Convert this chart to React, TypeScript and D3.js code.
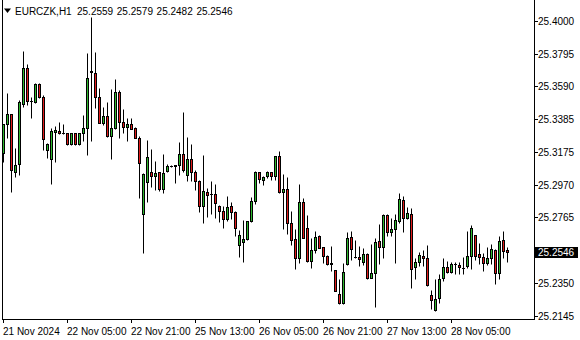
import React from "react";
import * as d3 from "d3";

const symbol = "EURCZK,H1";

const opens = [
  25.3168, 25.3350, 25.3413, 25.3052, 25.3099, 25.3476, 25.3702, 25.3499, 25.3492, 25.3602,
  25.3520, 25.3189, 25.3134, 25.3300, 25.3308, 25.3294, 25.3294, 25.3224, 25.3294, 25.3224,
  25.3294, 25.3325, 25.3681, 25.3671, 25.3524, 25.3356, 25.3402, 25.3277, 25.3325, 25.3551,
  25.3363, 25.3335, 25.3350, 25.3325, 25.3266, 25.2784, 25.2989, 25.3052, 25.3027, 25.3052,
  25.2941, 25.3056, 25.3088, 25.3092, 25.3092, 25.3163, 25.3029, 25.3132, 25.3048, 25.2992,
  25.2834, 25.2926, 25.2910, 25.2910, 25.2834, 25.2803, 25.2753, 25.2834, 25.2797, 25.2589,
  25.2608, 25.2629, 25.2742, 25.2866, 25.3048, 25.3002, 25.3027, 25.3048, 25.3027, 25.3151,
  25.2926, 25.2943, 25.2727, 25.2629, 25.2507, 25.2860, 25.2696, 25.2492, 25.2560, 25.2648,
  25.2576, 25.2522, 25.2476, 25.2434, 25.2283, 25.2226, 25.2471, 25.2643, 25.2518, 25.2518,
  25.2486, 25.2533, 25.2385, 25.2417, 25.2616, 25.2580, 25.2780, 25.2675, 25.2690, 25.2744,
  25.2874, 25.2759, 25.2786, 25.2454, 25.2482, 25.2524, 25.2507, 25.2276, 25.2182, 25.2256,
  25.2382, 25.2451, 25.2423, 25.2470, 25.2465, 25.2445, 25.2461, 25.2524, 25.2652, 25.2533,
  25.2514, 25.2476, 25.2511, 25.2560, 25.2417, 25.2622, 25.2559,
];

const highs = [
  25.3352, 25.3545, 25.3415, 25.3199, 25.3503, 25.3811, 25.3729, 25.3520, 25.3608, 25.3612,
  25.3534, 25.3234, 25.3325, 25.3339, 25.3363, 25.3350, 25.3296, 25.3296, 25.3296, 25.3296,
  25.3409, 25.3797, 25.4023, 25.3803, 25.3577, 25.3461, 25.3489, 25.3572, 25.3633, 25.3566,
  25.3446, 25.3388, 25.3392, 25.3331, 25.3277, 25.3042, 25.3251, 25.3193, 25.3119, 25.3053,
  25.3163, 25.3099, 25.3094, 25.3093, 25.3237, 25.3429, 25.3270, 25.3224, 25.3063, 25.3000,
  25.3157, 25.2948, 25.2994, 25.2977, 25.2843, 25.2836, 25.2899, 25.2860, 25.2805, 25.2685,
  25.2748, 25.2744, 25.2891, 25.3056, 25.3052, 25.3027, 25.3056, 25.3052, 25.3153, 25.3182,
  25.3036, 25.3021, 25.2805, 25.2692, 25.2975, 25.2885, 25.2780, 25.2633, 25.2679, 25.2654,
  25.2578, 25.2528, 25.2585, 25.2435, 25.2375, 25.2476, 25.2671, 25.2679, 25.2622, 25.2585,
  25.2574, 25.2539, 25.2597, 25.2633, 25.2723, 25.2786, 25.2786, 25.2759, 25.2786, 25.2920,
  25.2899, 25.2832, 25.2822, 25.2507, 25.2545, 25.2560, 25.2591, 25.2308, 25.2375, 25.2407,
  25.2507, 25.2490, 25.2486, 25.2482, 25.2486, 25.2514, 25.2679, 25.2717, 25.2654, 25.2602,
  25.2539, 25.2577, 25.2597, 25.2564, 25.2648, 25.2679, 25.2579,
];

const lows = [
  25.3115, 25.3266, 25.2926, 25.3021, 25.3031, 25.3461, 25.3472, 25.3388, 25.3486, 25.3514,
  25.3189, 25.3136, 25.2973, 25.3115, 25.3292, 25.3289, 25.3222, 25.3222, 25.3222, 25.3222,
  25.3245, 25.3157, 25.3247, 25.3451, 25.3356, 25.3346, 25.3268, 25.3130, 25.3319, 25.3262,
  25.3294, 25.3247, 25.3319, 25.3262, 25.2888, 25.2543, 25.2863, 25.2958, 25.2937, 25.2933,
  25.2920, 25.3052, 25.3080, 25.2983, 25.3031, 25.3052, 25.2995, 25.2995, 25.2937, 25.2797,
  25.2727, 25.2769, 25.2784, 25.2759, 25.2734, 25.2700, 25.2742, 25.2753, 25.2648, 25.2514,
  25.2482, 25.2622, 25.2736, 25.2849, 25.2983, 25.2968, 25.3011, 25.3000, 25.3000, 25.2920,
  25.2692, 25.2660, 25.2591, 25.2440, 25.2476, 25.2633, 25.2486, 25.2444, 25.2543, 25.2570,
  25.2476, 25.2465, 25.2427, 25.2302, 25.2220, 25.2220, 25.2465, 25.2497, 25.2507, 25.2461,
  25.2465, 25.2375, 25.2382, 25.2203, 25.2471, 25.2507, 25.2649, 25.2649, 25.2480, 25.2731,
  25.2675, 25.2753, 25.2319, 25.2375, 25.2461, 25.2461, 25.2333, 25.2188, 25.2176, 25.2228,
  25.2366, 25.2413, 25.2413, 25.2409, 25.2407, 25.2407, 25.2444, 25.2438, 25.2497, 25.2471,
  25.2429, 25.2465, 25.2471, 25.2346, 25.2375, 25.2507, 25.2482,
];

const closes = [
  25.3350, 25.3413, 25.3061, 25.3092, 25.3489, 25.3702, 25.3499, 25.3497, 25.3602, 25.3520,
  25.3256, 25.3224, 25.3308, 25.3314, 25.3294, 25.3293, 25.3224, 25.3294, 25.3224, 25.3294,
  25.3325, 25.3640, 25.3683, 25.3524, 25.3360, 25.3402, 25.3277, 25.3325, 25.3551, 25.3366,
  25.3335, 25.3350, 25.3322, 25.3266, 25.3109, 25.3036, 25.3143, 25.3027, 25.3044, 25.2941,
  25.3044, 25.3086, 25.3088, 25.3091, 25.3163, 25.3061, 25.3132, 25.3052, 25.2995, 25.2838,
  25.2931, 25.2904, 25.2910, 25.2853, 25.2803, 25.2753, 25.2828, 25.2797, 25.2696, 25.2652,
  25.2629, 25.2742, 25.2866, 25.3048, 25.3006, 25.3019, 25.3048, 25.3023, 25.3151, 25.2926,
  25.2943, 25.2727, 25.2622, 25.2511, 25.2860, 25.2637, 25.2492, 25.2560, 25.2643, 25.2574,
  25.2522, 25.2471, 25.2475, 25.2304, 25.2224, 25.2423, 25.2637, 25.2564, 25.2517, 25.2501,
  25.2533, 25.2382, 25.2413, 25.2608, 25.2580, 25.2780, 25.2675, 25.2692, 25.2748, 25.2878,
  25.2759, 25.2790, 25.2438, 25.2482, 25.2528, 25.2507, 25.2339, 25.2245, 25.2249, 25.2375,
  25.2451, 25.2423, 25.2470, 25.2469, 25.2451, 25.2444, 25.2524, 25.2696, 25.2524, 25.2514,
  25.2476, 25.2507, 25.2564, 25.2413, 25.2616, 25.2555, 25.2546,
];

const priceTicks = [25.4, 25.3795, 25.359, 25.3385, 25.3175, 25.297, 25.2765, 25.235, 25.2145];

const timeLabels = [
  "21 Nov 2024",
  "22 Nov 05:00",
  "22 Nov 21:00",
  "25 Nov 13:00",
  "26 Nov 05:00",
  "26 Nov 21:00",
  "27 Nov 13:00",
  "28 Nov 05:00",
];
const timeLabelBars = [0, 16, 32, 48, 64, 80, 96, 112];

const W = 580;
const H = 340;
const plotRight = 534.5;
const plotBottom = 319.5;
const FONT = "'Liberation Sans', Arial, sans-serif";
const BULL = "#2eb82e";
const BEAR = "#e01b1b";

export default function App() {
  const n = closes.length;
  const x = d3.scaleLinear().domain([0, n - 1]).range([3.5, 3.5 + 4 * (n - 1)]);
  const y = d3.scaleLinear().domain([25.2145, 25.4]).range([316, 21]);
  const py = (v: number) => Math.round(y(v));

  const last = n - 1;
  const lastClose = closes[last];
  const titleNums = [opens[last], highs[last], lows[last], closes[last]].map((v) => v.toFixed(4));

  return (
    <div style={{ position: "fixed", left: 0, top: 0 }}>
      <svg width={W} height={H} style={{ display: "block", background: "#fff" }} fontFamily={FONT}>
        <rect x={0} y={0} width={W} height={H} fill="#fff" />
        {/* frame */}
        <line x1={2.5} y1={0} x2={2.5} y2={plotBottom} stroke="#000" />
        <line x1={plotRight} y1={0} x2={plotRight} y2={plotBottom + 0.5} stroke="#000" />
        <line x1={2} y1={plotBottom} x2={plotRight} y2={plotBottom} stroke="#000" />

        {/* candles */}
        {d3.range(n).map((i) => {
          const cx = x(i);
          const o = opens[i];
          const c = closes[i];
          const top = py(Math.max(o, c));
          const bot = py(Math.min(o, c));
          const bull = c >= o;
          return (
            <g key={i}>
              <line x1={cx} x2={cx} y1={py(highs[i]) + 0.5} y2={py(lows[i]) + 0.5} stroke="#000" />
              {bot - top < 1 ? (
                <line x1={cx - 1.5} x2={cx + 1.5} y1={top + 0.5} y2={top + 0.5} stroke="#000" />
              ) : (
                <rect
                  x={cx - 1}
                  y={top + 0.5}
                  width={2}
                  height={bot - top}
                  fill={bull ? BULL : BEAR}
                  stroke="#000"
                  strokeWidth={1}
                />
              )}
            </g>
          );
        })}

        {/* price axis */}
        {priceTicks.map((v) => {
          const yy = py(v) + 0.5;
          return (
            <g key={v}>
              <line x1={plotRight} x2={plotRight + 3.5} y1={yy} y2={yy} stroke="#000" />
              <text x={538} y={yy + 3.5} fontSize={10} fill="#000">
                {v.toFixed(4)}
              </text>
            </g>
          );
        })}

        {/* current price */}
        <rect x={535} y={py(lastClose) - 5} width={43} height={11} fill="#000" />
        <text x={538} y={py(lastClose) + 4} fontSize={10} fill="#fff">
          {lastClose.toFixed(4)}
        </text>

        {/* time axis */}
        {timeLabelBars.map((b, k) => {
          const xx = x(b);
          return (
            <g key={b}>
              <line x1={xx} x2={xx} y1={plotBottom} y2={plotBottom + 3.5} stroke="#000" />
              <text x={xx - 0.5} y={335} fontSize={10} fill="#000">
                {timeLabels[k]}
              </text>
            </g>
          );
        })}

        {/* title */}
        <path d="M4,8.5 L11,8.5 L7.5,13 Z" fill="#000" />
        <text x={15} y={15} fontSize={10} fill="#000">
          {symbol}
        </text>
        {titleNums.map((s, k) => (
          <text key={k} x={77 + k * 39.8} y={15} fontSize={10} fill="#000">
            {s}
          </text>
        ))}
      </svg>
    </div>
  );
}
